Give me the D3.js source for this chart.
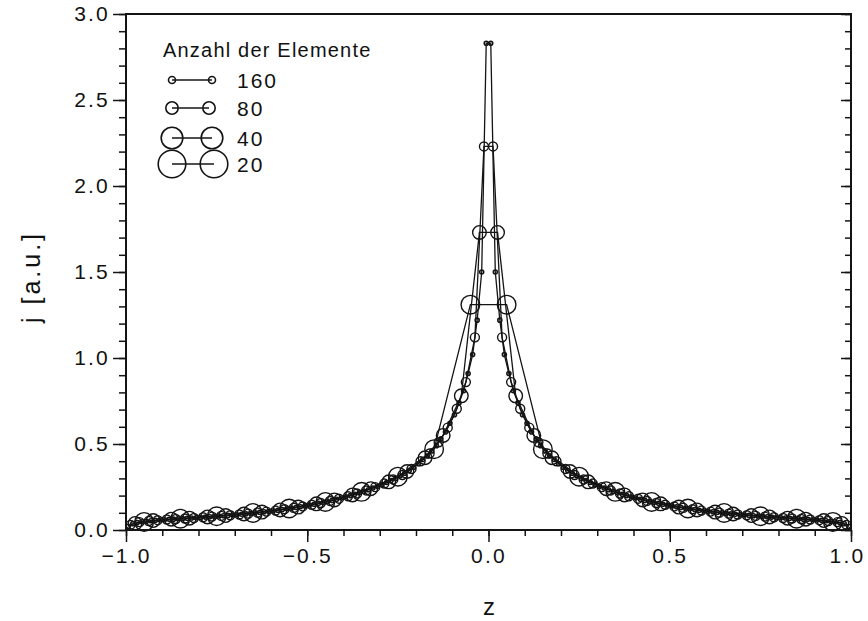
<!DOCTYPE html>
<html>
<head>
<meta charset="utf-8">
<script src="https://cdn.jsdelivr.net/npm/d3@7"></script>
<style>
  html, body { margin: 0; padding: 0; background: #fff; }
  svg { display: block; }
  text { font-family: "Liberation Sans", Arial, sans-serif; fill: #111; }
</style>
</head>
<body>
<svg id="chart" width="868" height="621"></svg>
<script>
// ---- data ----
const elementCounts = [160, 80, 40, 20];
const legendTitle = "Anzahl der Elemente";
const xLabel = "z";
const yLabel = "j [a.u.]";
const xTicks = [-1.0, -0.5, 0.0, 0.5, 1.0];
const yTicks = [0.0, 0.5, 1.0, 1.5, 2.0, 2.5, 3.0];

// j values at the element centres, ordered from z = -1 to z = +1
const j160 = [
  0.022,0.037,0.044,0.048,0.051,0.054,0.056,0.058,0.060,0.062,
  0.063,0.065,0.066,0.068,0.070,0.071,0.073,0.075,0.077,0.079,
  0.081,0.083,0.085,0.087,0.089,0.092,0.094,0.097,0.100,0.103,
  0.106,0.109,0.112,0.115,0.119,0.123,0.127,0.131,0.135,0.140,
  0.145,0.150,0.155,0.160,0.166,0.172,0.179,0.186,0.193,0.200,
  0.208,0.216,0.225,0.234,0.244,0.254,0.265,0.276,0.288,0.300,
  0.315,0.330,0.345,0.365,0.385,0.410,0.430,0.460,0.490,0.530,
  0.570,0.620,0.670,0.740,0.810,0.910,1.020,1.220,1.500,2.830,
  2.830,1.500,1.220,1.020,0.910,0.810,0.740,0.670,0.620,0.570,
  0.530,0.490,0.460,0.430,0.410,0.385,0.365,0.345,0.330,0.315,
  0.300,0.288,0.276,0.265,0.254,0.244,0.234,0.225,0.216,0.208,
  0.200,0.193,0.186,0.179,0.172,0.166,0.160,0.155,0.150,0.145,
  0.140,0.135,0.131,0.127,0.123,0.119,0.115,0.112,0.109,0.106,
  0.103,0.100,0.097,0.094,0.092,0.089,0.087,0.085,0.083,0.081,
  0.079,0.077,0.075,0.073,0.071,0.070,0.068,0.066,0.065,0.063,
  0.062,0.060,0.058,0.056,0.054,0.051,0.048,0.044,0.037,0.022
];
const j80 = [
  0.030,0.046,0.052,0.057,0.061,0.064,0.067,0.070,0.074,0.078,
  0.082,0.086,0.090,0.095,0.101,0.107,0.113,0.121,0.129,0.137,
  0.147,0.157,0.169,0.182,0.196,0.212,0.230,0.249,0.270,0.294,
  0.320,0.355,0.400,0.445,0.510,0.595,0.705,0.860,1.120,2.230,
  2.230,1.120,0.860,0.705,0.595,0.510,0.445,0.400,0.355,0.320,
  0.294,0.270,0.249,0.230,0.212,0.196,0.182,0.169,0.157,0.147,
  0.137,0.129,0.121,0.113,0.107,0.101,0.095,0.090,0.086,0.082,
  0.078,0.074,0.070,0.067,0.064,0.061,0.057,0.052,0.046,0.030
];
const j40 = [
  0.038,0.055,0.063,0.069,0.076,0.084,0.093,0.104,0.117,0.133,
  0.152,0.175,0.204,0.240,0.280,0.340,0.420,0.550,0.780,1.730,
  1.730,0.780,0.550,0.420,0.340,0.280,0.240,0.204,0.175,0.152,
  0.133,0.117,0.104,0.093,0.084,0.076,0.069,0.063,0.055,0.038
];
const j20 = [
  0.047,0.066,0.080,0.099,0.125,0.163,0.222,0.310,0.470,1.310,
  1.310,0.470,0.310,0.222,0.163,0.125,0.099,0.080,0.066,0.047
];
const seriesValues = [j160, j80, j40, j20];

// ---- layout ----
const svg = d3.select("#chart");
const L = 126, R = 851, T = 14, B = 530;
const x = d3.scaleLinear().domain([-1, 1]).range([L, R]);
const y = d3.scaleLinear().domain([0, 3]).range([B, T]);

const markerR = {160: 2, 80: 4.5, 40: 6.8, 20: 9.3};
const legendR = {160: 3.5, 80: 6.2, 40: 10.8, 20: 13.8};
const ink = "#141414";

// element centres of a mesh of n elements on [-1, 1]
function centres(n) { return d3.range(n).map(i => -1 + (i + 0.5) * 2 / n); }

const series = elementCounts.map((n, k) => {
  const zs = centres(n);
  return { n, pts: seriesValues[k].map((v, i) => ({ z: zs[i], j: v })) };
});

const plot = svg.append("g");
const line = d3.line().x(d => x(d.z)).y(d => y(d.j));

series.slice().reverse().forEach(s => {
  plot.append("path").datum(s.pts).attr("d", line)
    .attr("fill", "none").attr("stroke", ink).attr("stroke-width", 1.3);
  plot.selectAll(null).data(s.pts).enter().append("circle")
    .attr("cx", d => x(d.z)).attr("cy", d => y(d.j)).attr("r", markerR[s.n])
    .attr("fill", "none").attr("stroke", ink).attr("stroke-width", s.n === 160 ? 1.6 : 1.4);
});

// ---- axes ----
const tickFont = 21;
function styleAxis(g) {
  g.select(".domain").remove();
  g.selectAll("line").attr("stroke", ink).attr("stroke-width", 1.5);
  g.selectAll("text").attr("font-size", tickFont).attr("letter-spacing", "2.2px")
    .attr("font-family", "Liberation Sans, Arial, sans-serif").attr("fill", ink);
}
const fmt = v => (v < 0 ? "\u2212" : "") + Math.abs(v).toFixed(1);
const yMinor = d3.range(0, 31).map(i => i / 10);
const xMinor = d3.range(0, 21).map(i => -1 + i / 10);

svg.append("g").attr("transform", `translate(${L},0)`)
  .call(d3.axisLeft(y).tickValues(yMinor).tickSize(7).tickFormat(""))
  .call(styleAxis);
svg.append("g").attr("transform", `translate(${L},0)`)
  .call(d3.axisLeft(y).tickValues(yTicks).tickSize(13).tickPadding(3).tickFormat(fmt))
  .call(styleAxis);
svg.append("g").attr("transform", `translate(${R},0)`)
  .call(d3.axisLeft(y).tickValues(yMinor).tickSize(6).tickFormat(""))
  .call(styleAxis);
svg.append("g").attr("transform", `translate(${R},0)`)
  .call(d3.axisLeft(y).tickValues(yTicks).tickSize(10).tickFormat(""))
  .call(styleAxis);
svg.append("g").attr("transform", `translate(0,${B})`)
  .call(d3.axisBottom(x).tickValues(xMinor).tickSize(6).tickFormat(""))
  .call(styleAxis);
const xAx = svg.append("g").attr("transform", `translate(0,${B})`)
  .call(d3.axisBottom(x).tickValues(xTicks).tickSize(12).tickPadding(6).tickFormat(fmt))
  .call(styleAxis);
// keep the last label inside the page
xAx.selectAll(".tick text").filter(d => d === 1).attr("dx", "-4");

// frame
svg.append("rect").attr("x", L).attr("y", T).attr("width", R - L).attr("height", B - T)
  .attr("fill", "none").attr("stroke", ink).attr("stroke-width", 2);

// axis titles
svg.append("text").attr("x", 489).attr("y", 615).attr("text-anchor", "middle")
  .attr("font-size", 24).text(xLabel);
svg.append("text").attr("transform", "translate(40,277) rotate(-90)")
  .attr("text-anchor", "middle").attr("font-size", 25).attr("letter-spacing", "3px").text(yLabel);

// ---- legend ----
const lg = svg.append("g");
lg.append("text").attr("x", 163).attr("y", 57).attr("font-size", 20)
  .attr("letter-spacing", "1.2px").text(legendTitle);
const rowY = [80, 108, 138, 164];
const rowX2 = [212, 209, 212, 214];
elementCounts.forEach((n, i) => {
  const cy = rowY[i];
  lg.append("line").attr("x1", 172).attr("x2", rowX2[i]).attr("y1", cy).attr("y2", cy)
    .attr("stroke", ink).attr("stroke-width", 1.3);
  [172, rowX2[i]].forEach(cx => lg.append("circle").attr("cx", cx).attr("cy", cy)
    .attr("r", legendR[n]).attr("fill", "none").attr("stroke", ink).attr("stroke-width", 1.6));
  lg.append("text").attr("x", 237).attr("y", cy + 8).attr("font-size", 21)
    .attr("letter-spacing", "2px").text(n);
});
</script>
</body>
</html>
